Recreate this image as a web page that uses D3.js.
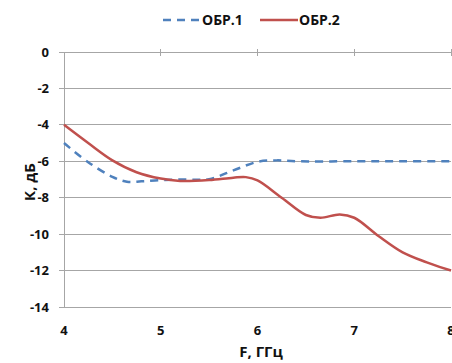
<!DOCTYPE html>
<html><head><meta charset="utf-8">
<script src="https://cdn.jsdelivr.net/npm/d3@7"></script>
<style>body{margin:0;background:#fff}text{font-family:"Open Sans",sans-serif;font-weight:bold;fill:#111}</style>
</head><body><svg id="c" width="452" height="363"></svg>
<script>
const seriesNames = ["ОБР.1", "ОБР.2"];
const xTicks = [4, 5, 6, 7, 8];
const yTicks = [0, -2, -4, -6, -8, -10, -12, -14];
const obr1 = [[4,-5],[4.25,-6.05],[4.5,-6.85],[4.65,-7.12],[4.8,-7.1],[5,-7.03],[5.25,-7.0],[5.5,-6.98],[5.75,-6.5],[6,-6.03],[6.2,-5.95],[6.4,-6.0],[7,-6.0],[7.5,-6.0],[8,-6.0]];
const obr2 = [[4,-4],[4.25,-5.0],[4.5,-5.95],[4.75,-6.6],[5,-6.95],[5.2,-7.08],[5.5,-7.03],[5.75,-6.9],[5.88,-6.87],[6,-7.05],[6.25,-8.0],[6.5,-8.95],[6.65,-9.1],[6.85,-8.92],[7,-9.1],[7.25,-10.1],[7.5,-11.0],[7.75,-11.55],[8,-12]];
const colors = ["#4F81BD", "#C0504D"];

const svg = d3.select("#c");
const x = d3.scaleLinear().domain([4, 8]).range([64, 451]);
const y = d3.scaleLinear().domain([-14, 0]).range([307, 52]);

svg.append("g").selectAll("line").data(yTicks).join("line")
  .attr("x1", 59).attr("x2", 451).attr("y1", d => y(d)).attr("y2", d => y(d))
  .attr("stroke", "#a6a6a6").attr("stroke-width", 1).attr("shape-rendering","crispEdges");
svg.append("line").attr("x1", 64).attr("x2", 64).attr("y1", y(0)).attr("y2", y(-14))
  .attr("stroke", "#a6a6a6").attr("shape-rendering","crispEdges");
svg.append("g").selectAll("line").data(xTicks.slice(1)).join("line")
  .attr("x1", d => x(d)).attr("x2", d => x(d)).attr("y1", y(0) - 3).attr("y2", y(0) + 4)
  .attr("stroke", "#a6a6a6").attr("shape-rendering","crispEdges");

svg.append("g").selectAll("text").data(yTicks).join("text")
  .attr("x", 49).attr("y", d => y(d)).attr("dy", "0.35em").attr("text-anchor", "end")
  .attr("font-size", 13).text(d => d);
svg.append("g").selectAll("text").data(xTicks).join("text")
  .attr("x", d => x(d)).attr("y", 330).attr("dy", "0.35em").attr("text-anchor", "middle")
  .attr("font-size", 13).text(d => d);

svg.append("text").attr("transform", "translate(30,182) rotate(-90)").attr("text-anchor", "middle")
  .attr("dy", "0.35em").attr("font-size", 15).text("К, дБ");
svg.append("text").attr("x", 261).attr("y", 352).attr("text-anchor", "middle")
  .attr("dy", "0.35em").attr("font-size", 15).text("F, ГГц");

const line = d3.line().x(d => x(d[0])).y(d => y(d[1])).curve(d3.curveCatmullRom.alpha(0.5));
svg.append("path").datum(obr1).attr("d", line).attr("fill", "none")
  .attr("stroke", colors[0]).attr("stroke-width", 2.5).attr("stroke-dasharray", "8,6");
svg.append("path").datum(obr2).attr("d", line).attr("fill", "none")
  .attr("stroke", colors[1]).attr("stroke-width", 2.5);

const lg = svg.append("g");
lg.append("line").attr("x1", 163).attr("x2", 200).attr("y1", 20).attr("y2", 20)
  .attr("stroke", colors[0]).attr("stroke-width", 2.5).attr("stroke-dasharray", "8,6");
lg.append("text").attr("x", 202).attr("y", 20).attr("dy", "0.35em").attr("font-size", 14).text(seriesNames[0]);
lg.append("line").attr("x1", 260).attr("x2", 298).attr("y1", 20).attr("y2", 20)
  .attr("stroke", colors[1]).attr("stroke-width", 2.5);
lg.append("text").attr("x", 299).attr("y", 20).attr("dy", "0.35em").attr("font-size", 14).text(seriesNames[1]);
</script></body></html>
